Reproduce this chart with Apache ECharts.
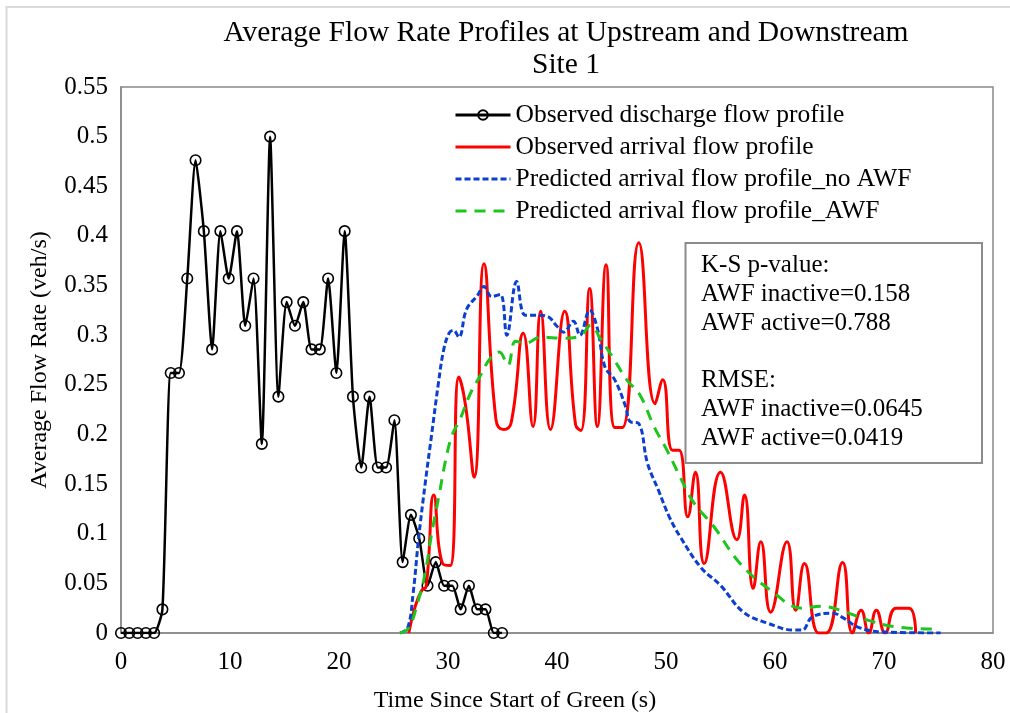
<!DOCTYPE html>
<html>
<head>
<meta charset="utf-8">
<title>Average Flow Rate Profiles - Site 1</title>
<script src="https://cdn.jsdelivr.net/npm/echarts@6/dist/echarts.min.js"></script>
<style>
  html, body { margin: 0; padding: 0; background: #ffffff; }
  #chart { width: 1010px; height: 713px; }
</style>
</head>
<body>
<div id="chart"></div>
<script>
// Titles and labels
const titleLines = ['Average Flow Rate Profiles at Upstream and Downstream', 'Site 1'];
const xAxisTitle = 'Time Since Start of Green (s)';
const yAxisTitle = 'Average Flow Rate (veh/s)';
const seriesNames = [
  'Observed discharge flow profile',
  'Observed arrival flow profile',
  'Predicted arrival flow profile_no AWF',
  'Predicted arrival flow profile_AWF'
];
const statLines = [
  'K-S p-value:',
  'AWF inactive=0.158',
  'AWF active=0.788',
  '',
  'RMSE:',
  'AWF inactive=0.0645',
  'AWF active=0.0419'
];

// Observed discharge flow at the upstream stop line (s, veh/s)
const dischargeTime = [0, 0.76, 1.52, 2.28, 3.04, 3.80, 4.56, 5.32, 6.08, 6.84, 7.60, 8.36, 9.12, 9.88,
  10.64, 11.40, 12.16, 12.92, 13.68, 14.44, 15.20, 15.96, 16.72, 17.48, 18.24, 19.00, 19.76, 20.52,
  21.28, 22.04, 22.80, 23.56, 24.32, 25.08, 25.84, 26.60, 27.36, 28.12, 28.88, 29.64, 30.40, 31.16,
  31.92, 32.68, 33.44, 34.20, 34.96];
const dischargeFlow = [0, 0, 0, 0, 0, 0.0238, 0.2619, 0.2619, 0.3571, 0.4762, 0.4048, 0.2857, 0.4048, 0.3571,
  0.4048, 0.3095, 0.3571, 0.1905, 0.5, 0.2381, 0.3333, 0.3095, 0.3333, 0.2857, 0.2857, 0.3571, 0.2619, 0.4048,
  0.2381, 0.1667, 0.2381, 0.1667, 0.1667, 0.2143, 0.0714, 0.119, 0.0952, 0.0476, 0.0714, 0.0476, 0.0476, 0.0238,
  0.0476, 0.0238, 0.0238, 0, 0];

// Observed arrival flow downstream
const arrivalTime = [26.4, 27.0, 27.6, 28.0, 28.7, 29.5, 30.2, 31.0, 31.6, 32.4, 33.3, 34.4, 35.1, 35.8,
  36.9, 37.8, 38.5, 39.4, 40.7, 41.7, 42.2, 43.0, 43.7, 44.5, 45.3, 46.0, 47.5, 49.0, 49.7, 50.6, 51.2,
  52.0, 52.7, 53.5, 55.0, 56.5, 57.2, 58.0, 58.7, 59.6, 61.1, 61.9, 62.7, 64.0, 64.7, 66.2, 67.1, 67.9,
  68.6, 69.3, 70.1, 71.1, 72.3, 72.9];
const arrivalFlow = [0, 0.027, 0.043, 0.047, 0.139, 0.07, 0.068, 0.258, 0.23, 0.157, 0.372, 0.215, 0.205, 0.212,
  0.302, 0.208, 0.324, 0.205, 0.324, 0.21, 0.204, 0.347, 0.208, 0.371, 0.207, 0.207, 0.393, 0.231, 0.255, 0.184, 0.184,
  0.117, 0.162, 0.07, 0.162, 0.094, 0.139, 0.045, 0.092, 0.021, 0.092, 0.023, 0.07, 0, 0, 0.071, 0, 0.023,
  0, 0.023, 0, 0.025, 0.025, 0];

// Predicted arrival flow without AWF
const noAwfTime = [25.6, 26.3, 26.8, 27.3, 27.9, 28.5, 29.1, 29.6, 30.1, 30.5, 31.0, 31.7, 32.7, 33.3, 34.0,
  34.8, 35.4, 36.3, 37.1, 38.2, 39.1, 40.0, 40.6, 41.5, 42.1, 43.0, 43.7, 44.4, 45.3, 46.3, 46.7, 47.5,
  48.3, 49.3, 50.3, 51.3, 53.2, 55.0, 57.1, 59.3, 61.7, 62.5, 63.4, 65.3, 66.3, 67.6, 69.7, 75.2];
const noAwfFlow = [0, 0.005, 0.04, 0.095, 0.15, 0.2, 0.25, 0.285, 0.302, 0.305, 0.298, 0.326, 0.34, 0.349, 0.339,
  0.341, 0.3, 0.354, 0.32, 0.32, 0.319, 0.309, 0.303, 0.314, 0.3, 0.325, 0.307, 0.268, 0.255, 0.228, 0.213, 0.211,
  0.171, 0.144, 0.117, 0.097, 0.066, 0.048, 0.021, 0.01, 0.003, 0.003, 0.016, 0.02, 0.015, 0.006, 0.001, 0];

// Predicted arrival flow with AWF
const awfTime = [25.6, 26.4, 27.2, 27.9, 28.5, 29.2, 29.8, 30.4, 31.1, 32.0, 33.0, 33.9, 34.7, 35.5, 36.2,
  37.1, 38.5, 40.6, 42.1, 43.1, 44.0, 45.1, 46.4, 47.6, 48.9, 50.1, 51.3, 52.5, 54.4, 56.8, 59.6, 62.5,
  64.2, 66.0, 68.5, 71.2, 74.6];
const awfFlow = [0, 0.005, 0.03, 0.06, 0.1, 0.14, 0.175, 0.2, 0.215, 0.24, 0.26, 0.277, 0.283, 0.27, 0.294,
  0.292, 0.298, 0.297, 0.299, 0.31, 0.296, 0.278, 0.255, 0.24, 0.208, 0.184, 0.157, 0.132, 0.107, 0.07, 0.043, 0.025,
  0.027, 0.023, 0.013, 0.006, 0.004];

const serif = '"Liberation Serif", "Times New Roman", serif';
const axisGray = '#898989';
const toPairs = (xs, ys) => xs.map((x, i) => [x, ys[i]]);

const chart = echarts.init(document.getElementById('chart'), null, { renderer: 'canvas' });

chart.setOption({
  animation: false,
  backgroundColor: '#ffffff',
  title: {
    text: titleLines.join('\n'),
    left: 561,
    top: 12,
    textAlign: 'center',
    textStyle: { fontFamily: serif, fontSize: 29.5, fontWeight: 'normal', color: '#000', lineHeight: 32 }
  },
  grid: {
    left: 121, right: 17, top: 87, bottom: 80,
    outerBoundsMode: 'none',
    containLabel: false,
    show: true, borderColor: axisGray, borderWidth: 1.5, backgroundColor: 'transparent'
  },
  legend: {
    orient: 'vertical',
    left: 454,
    top: 99,
    padding: 0,
    itemWidth: 55,
    itemHeight: 12,
    itemGap: 0,
    selectedMode: false,
    lineStyle: { width: 3 },
    textStyle: { fontFamily: serif, fontSize: 25.5, color: '#000', lineHeight: 32 },
    data: [
      { name: seriesNames[0] },
      // line-only entries: hide the marker the line icon adds by default
      { name: seriesNames[1], itemStyle: { opacity: 0 } },
      { name: seriesNames[2], itemStyle: { opacity: 0 } },
      { name: seriesNames[3], itemStyle: { opacity: 0 } }
    ]
  },
  xAxis: {
    type: 'value',
    min: 0, max: 80, interval: 10,
    name: xAxisTitle,
    nameLocation: 'middle',
    nameGap: 56,
    nameTextStyle: { fontFamily: serif, fontSize: 24, color: '#000', padding: [0, 84, 0, 0] },
    axisLine: { show: true, onZero: false, lineStyle: { color: axisGray, width: 1.5 } },
    axisTick: { show: false },
    splitLine: { show: false },
    axisLabel: { margin: 17, fontFamily: serif, fontSize: 25, color: '#000' }
  },
  yAxis: {
    type: 'value',
    min: 0, max: 0.55, interval: 0.05,
    name: yAxisTitle,
    nameLocation: 'middle',
    nameGap: 69,
    nameTextStyle: { fontFamily: serif, fontSize: 24, color: '#000' },
    axisLine: { show: true, lineStyle: { color: axisGray, width: 1.5 } },
    axisTick: { show: false },
    splitLine: { show: false },
    axisLabel: { margin: 13, fontFamily: serif, fontSize: 25, color: '#000' }
  },
  series: [
    {
      name: seriesNames[0],
      type: 'line',
      data: toPairs(dischargeTime, dischargeFlow),
      smooth: 0.2,
      symbol: 'circle',
      symbolSize: 10.5,
      showAllSymbol: true,
      lineStyle: { color: '#000', width: 2.5 },
      itemStyle: { color: 'rgba(255,255,255,0)', borderColor: '#000', borderWidth: 1.6 },
      emphasis: { disabled: true },
      z: 2
    },
    {
      name: seriesNames[1],
      type: 'line',
      data: toPairs(arrivalTime, arrivalFlow),
      smooth: 0.5,
      symbol: 'none',
      lineStyle: { color: '#ff0000', width: 3 },
      itemStyle: { color: '#ff0000' },
      emphasis: { disabled: true },
      z: 3
    },
    {
      name: seriesNames[2],
      type: 'line',
      data: toPairs(noAwfTime, noAwfFlow),
      smooth: 0.4,
      symbol: 'none',
      lineStyle: { color: '#0a3fd0', width: 3, type: [6, 3] },
      itemStyle: { color: '#0a3fd0' },
      emphasis: { disabled: true },
      z: 4
    },
    {
      name: seriesNames[3],
      type: 'line',
      data: toPairs(awfTime, awfFlow),
      smooth: 0.4,
      symbol: 'none',
      lineStyle: { color: '#1dc51d', width: 3, type: [11, 8] },
      itemStyle: { color: '#1dc51d' },
      emphasis: { disabled: true },
      z: 5
    }
  ],
  graphic: [
    {
      type: 'rect',
      silent: true,
      z: -10,
      shape: { x: 6.5, y: 7, width: 1100, height: 800 },
      style: { fill: 'none', stroke: '#d9d9d9', lineWidth: 2 }
    },
    {
      type: 'rect',
      silent: true,
      z: 10,
      shape: { x: 685.5, y: 243, width: 296.5, height: 220 },
      style: { fill: '#ffffff', stroke: '#8c8c8c', lineWidth: 2 }
    },
    {
      type: 'text',
      silent: true,
      z: 11,
      x: 701,
      y: 251.5,
      style: {
        text: statLines.join('\n'),
        fontFamily: serif,
        fontSize: 25,
        lineHeight: 28.7,
        fill: '#000',
        verticalAlign: 'top'
      }
    }
  ]
});
</script>
</body>
</html>
